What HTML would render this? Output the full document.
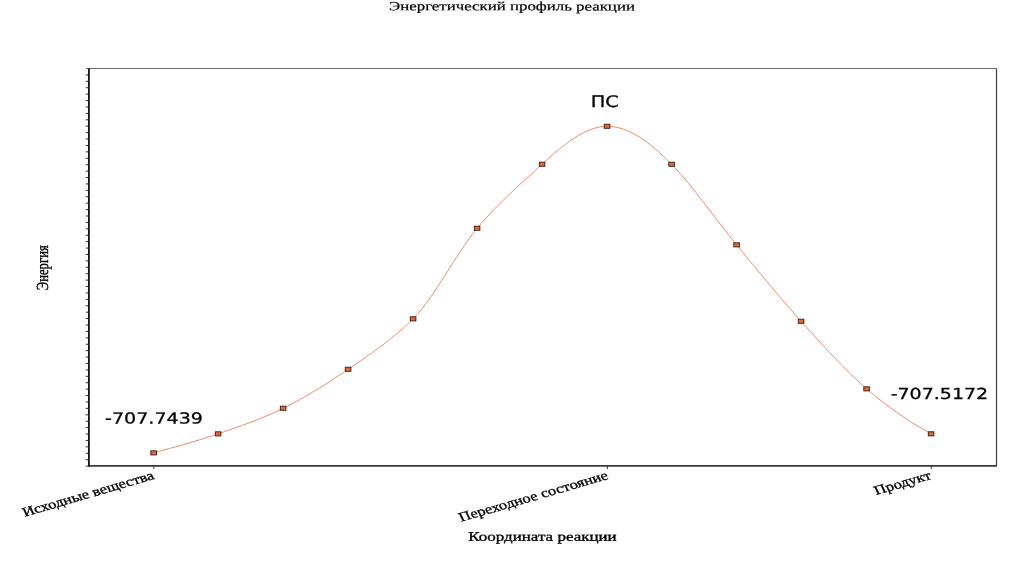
<!DOCTYPE html>
<html lang="ru"><head><meta charset="utf-8"><title>Энергетический профиль реакции</title>
<style>
html,body{margin:0;padding:0;background:#fff;}
body{width:1024px;height:574px;overflow:hidden;position:relative;}
svg{position:absolute;left:0;top:0;display:block;}
text{text-rendering:geometricPrecision;}
.serif{font-family:"Liberation Serif","DejaVu Serif",serif;fill:#000;}
.sans{font-family:"DejaVu Sans","Liberation Sans",sans-serif;fill:#000;}
</style></head><body>
<svg width="1024" height="574" viewBox="0 0 1024 574">
<rect width="1024" height="574" fill="#fff"/>
<line x1="85.9" y1="68.5" x2="996.5" y2="68.5" stroke="#6a6a6a" stroke-width="1"/>
<line x1="996.5" y1="68.5" x2="996.5" y2="465.9" stroke="#3c3c3c" stroke-width="1.2"/>
<line x1="88.9" y1="465.9" x2="997.0" y2="465.9" stroke="#3a3a3a" stroke-width="1.65"/>
<line x1="88.9" y1="68.5" x2="88.9" y2="466.7" stroke="#111" stroke-width="1.8"/>
<g stroke="#333" stroke-width="1"><line x1="85.7" y1="466.10" x2="88.9" y2="466.10"/><line x1="85.7" y1="459.69" x2="88.9" y2="459.69"/><line x1="85.7" y1="453.27" x2="88.9" y2="453.27"/><line x1="85.7" y1="446.86" x2="88.9" y2="446.86"/><line x1="85.7" y1="440.45" x2="88.9" y2="440.45"/><line x1="85.7" y1="434.03" x2="88.9" y2="434.03"/><line x1="85.7" y1="427.62" x2="88.9" y2="427.62"/><line x1="85.7" y1="421.21" x2="88.9" y2="421.21"/><line x1="85.7" y1="414.80" x2="88.9" y2="414.80"/><line x1="85.7" y1="408.38" x2="88.9" y2="408.38"/><line x1="85.7" y1="401.97" x2="88.9" y2="401.97"/><line x1="85.7" y1="395.56" x2="88.9" y2="395.56"/><line x1="85.7" y1="389.14" x2="88.9" y2="389.14"/><line x1="85.7" y1="382.73" x2="88.9" y2="382.73"/><line x1="85.7" y1="376.32" x2="88.9" y2="376.32"/><line x1="85.7" y1="369.90" x2="88.9" y2="369.90"/><line x1="85.7" y1="363.49" x2="88.9" y2="363.49"/><line x1="85.7" y1="357.08" x2="88.9" y2="357.08"/><line x1="85.7" y1="350.67" x2="88.9" y2="350.67"/><line x1="85.7" y1="344.25" x2="88.9" y2="344.25"/><line x1="85.7" y1="337.84" x2="88.9" y2="337.84"/><line x1="85.7" y1="331.43" x2="88.9" y2="331.43"/><line x1="85.7" y1="325.01" x2="88.9" y2="325.01"/><line x1="85.7" y1="318.60" x2="88.9" y2="318.60"/><line x1="85.7" y1="312.19" x2="88.9" y2="312.19"/><line x1="85.7" y1="305.77" x2="88.9" y2="305.77"/><line x1="85.7" y1="299.36" x2="88.9" y2="299.36"/><line x1="85.7" y1="292.95" x2="88.9" y2="292.95"/><line x1="85.7" y1="286.54" x2="88.9" y2="286.54"/><line x1="85.7" y1="280.12" x2="88.9" y2="280.12"/><line x1="85.7" y1="273.71" x2="88.9" y2="273.71"/><line x1="85.7" y1="267.30" x2="88.9" y2="267.30"/><line x1="85.7" y1="260.88" x2="88.9" y2="260.88"/><line x1="85.7" y1="254.47" x2="88.9" y2="254.47"/><line x1="85.7" y1="248.06" x2="88.9" y2="248.06"/><line x1="85.7" y1="241.64" x2="88.9" y2="241.64"/><line x1="85.7" y1="235.23" x2="88.9" y2="235.23"/><line x1="85.7" y1="228.82" x2="88.9" y2="228.82"/><line x1="85.7" y1="222.41" x2="88.9" y2="222.41"/><line x1="85.7" y1="215.99" x2="88.9" y2="215.99"/><line x1="85.7" y1="209.58" x2="88.9" y2="209.58"/><line x1="85.7" y1="203.17" x2="88.9" y2="203.17"/><line x1="85.7" y1="196.75" x2="88.9" y2="196.75"/><line x1="85.7" y1="190.34" x2="88.9" y2="190.34"/><line x1="85.7" y1="183.93" x2="88.9" y2="183.93"/><line x1="85.7" y1="177.51" x2="88.9" y2="177.51"/><line x1="85.7" y1="171.10" x2="88.9" y2="171.10"/><line x1="85.7" y1="164.69" x2="88.9" y2="164.69"/><line x1="85.7" y1="158.28" x2="88.9" y2="158.28"/><line x1="85.7" y1="151.86" x2="88.9" y2="151.86"/><line x1="85.7" y1="145.45" x2="88.9" y2="145.45"/><line x1="85.7" y1="139.04" x2="88.9" y2="139.04"/><line x1="85.7" y1="132.62" x2="88.9" y2="132.62"/><line x1="85.7" y1="126.21" x2="88.9" y2="126.21"/><line x1="85.7" y1="119.80" x2="88.9" y2="119.80"/><line x1="85.7" y1="113.38" x2="88.9" y2="113.38"/><line x1="85.7" y1="106.97" x2="88.9" y2="106.97"/><line x1="85.7" y1="100.56" x2="88.9" y2="100.56"/><line x1="85.7" y1="94.15" x2="88.9" y2="94.15"/><line x1="85.7" y1="87.73" x2="88.9" y2="87.73"/><line x1="85.7" y1="81.32" x2="88.9" y2="81.32"/><line x1="85.7" y1="74.91" x2="88.9" y2="74.91"/></g>
<g stroke="#333" stroke-width="1"><line x1="153.8" y1="465.9" x2="153.8" y2="468.9"/><line x1="607.4" y1="465.9" x2="607.4" y2="468.9"/><line x1="931.3" y1="465.9" x2="931.3" y2="468.9"/></g>
<path d="M153.50,452.50 C175.00,446.69 196.50,440.89 218.00,433.50 C239.67,426.05 261.33,418.75 283.00,408.00 C304.67,397.25 326.33,383.92 348.00,369.00 C369.67,354.08 391.33,340.17 413.00,318.50 C434.33,297.17 455.67,253.55 477.00,228.00 C498.67,202.05 520.33,183.93 542.00,164.00 C563.67,144.07 585.33,126.00 607.00,126.00 C628.50,126.00 650.00,142.07 671.50,164.00 C693.17,186.10 714.83,218.23 736.50,244.50 C758.00,270.57 779.50,297.18 801.00,321.00 C822.83,345.18 844.67,369.61 866.50,388.50 C888.00,407.11 909.50,421.68 931.00,433.50" fill="none" stroke="#ef8c6f" stroke-width="1" transform="translate(0.1 0.3)"/>
<g fill="#e2683e" stroke="#3a1c10" stroke-width="0.9"><rect x="150.8" y="450.8" width="5.6" height="4.1" /><rect x="215.3" y="431.8" width="5.6" height="4.1" /><rect x="280.3" y="406.2" width="5.6" height="4.1" /><rect x="345.3" y="367.2" width="5.6" height="4.1" /><rect x="410.3" y="316.8" width="5.6" height="4.1" /><rect x="474.3" y="226.2" width="5.6" height="4.1" /><rect x="539.3" y="162.2" width="5.6" height="4.1" /><rect x="604.3" y="124.2" width="5.6" height="4.1" /><rect x="668.8" y="162.2" width="5.6" height="4.1" /><rect x="733.8" y="242.8" width="5.6" height="4.1" /><rect x="798.3" y="319.2" width="5.6" height="4.1" /><rect x="863.8" y="386.8" width="5.6" height="4.1" /><rect x="928.3" y="431.8" width="5.6" height="4.1" /></g>
<g class="serif" stroke="#000" stroke-width="0.3">
<text font-size="12.6" stroke-width="0.2" text-anchor="middle" transform="translate(512 10.35) rotate(0.03) scale(1.338 1)">Энергетический профиль реакции</text>
<text font-size="13" text-anchor="middle" transform="translate(542.5 540.7) rotate(0.03) scale(1.307 1)">Координата реакции</text>
<text font-size="13" text-anchor="middle" transform="translate(47.8 267.7) scale(1.3 0.978) rotate(-90)">Энергия</text>
<g font-size="13" text-anchor="end" stroke-width="0.3">
<text transform="translate(155.2 478.7) scale(1.27 1) rotate(-20.3)">Исходные вещества</text>
<text transform="translate(609.2 478.7) scale(1.27 1) rotate(-20.3)">Переходное состояние</text>
<text transform="translate(932.2 478.7) scale(1.27 1) rotate(-20.3)">Продукт</text>
</g>
</g>
<g class="sans" font-size="16.2" stroke="#000" stroke-width="0.28">
<text font-size="16" text-anchor="middle" transform="translate(604.8 106.9) rotate(0.03) scale(1.21 1)">ПС</text>
<text font-size="15.2" text-anchor="middle" transform="translate(154 423.6) rotate(0.03) scale(1.255 1)">-707.7439</text>
<text font-size="15.2" text-anchor="middle" transform="translate(939.4 399) rotate(0.03) scale(1.25 1)">-707.5172</text>
</g>
</svg>
</body></html>
